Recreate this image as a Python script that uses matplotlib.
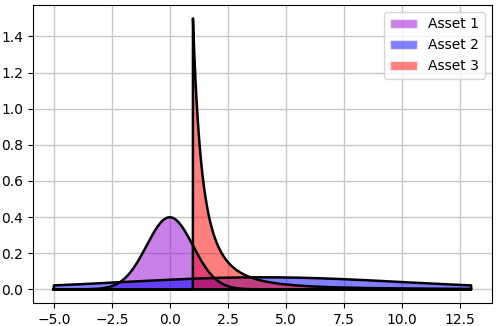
import matplotlib
matplotlib.use("Agg")
import matplotlib.pyplot as plt
import matplotlib.patches as mpatches
import numpy as np

# distributions
labels = ["Asset 1", "Asset 2", "Asset 3"]
colors = ["darkviolet", "blue", "red"]
normal_mu = [0.0, 4.0]
normal_sigma = [1.0, 6.0]
pareto_b = 1.5
pareto_xm = 1.0
x_lo, x_hi = -5.0, 13.0

x = np.linspace(x_lo, x_hi, 2000)
x = np.sort(np.append(x, pareto_xm))


def normal_pdf(x, mu, s):
    return np.exp(-0.5 * ((x - mu) / s) ** 2) / (np.sqrt(2 * np.pi) * s)


def pareto_pdf(x, b, xm):
    y = np.zeros_like(x)
    m = x >= xm
    y[m] = b * xm ** b / x[m] ** (b + 1)
    return y


curves = [normal_pdf(x, normal_mu[0], normal_sigma[0]),
          normal_pdf(x, normal_mu[1], normal_sigma[1]),
          pareto_pdf(x, pareto_b, pareto_xm)]

fig, ax = plt.subplots(figsize=(5, 3.26), dpi=100)
fig.subplots_adjust(left=0.066, right=0.984, top=0.985, bottom=0.071)
ax.grid(True, color="#c8c8c8", linewidth=1)
ax.set_axisbelow(True)

handles = []
for y, c, lab in zip(curves, colors, labels):
    px = np.concatenate([[x[0]], x, [x[-1]]])
    py = np.concatenate([[0], y, [0]])
    ax.fill(px, py, color=c, alpha=0.5, lw=0)
    ax.plot(np.append(px, px[0]), np.append(py, py[0]), color="k", lw=1.8)
    handles.append(mpatches.Patch(facecolor=c, alpha=0.5, edgecolor="white", label=lab))

ax.legend(handles=handles, loc="upper right")
fig.savefig("out.png")
